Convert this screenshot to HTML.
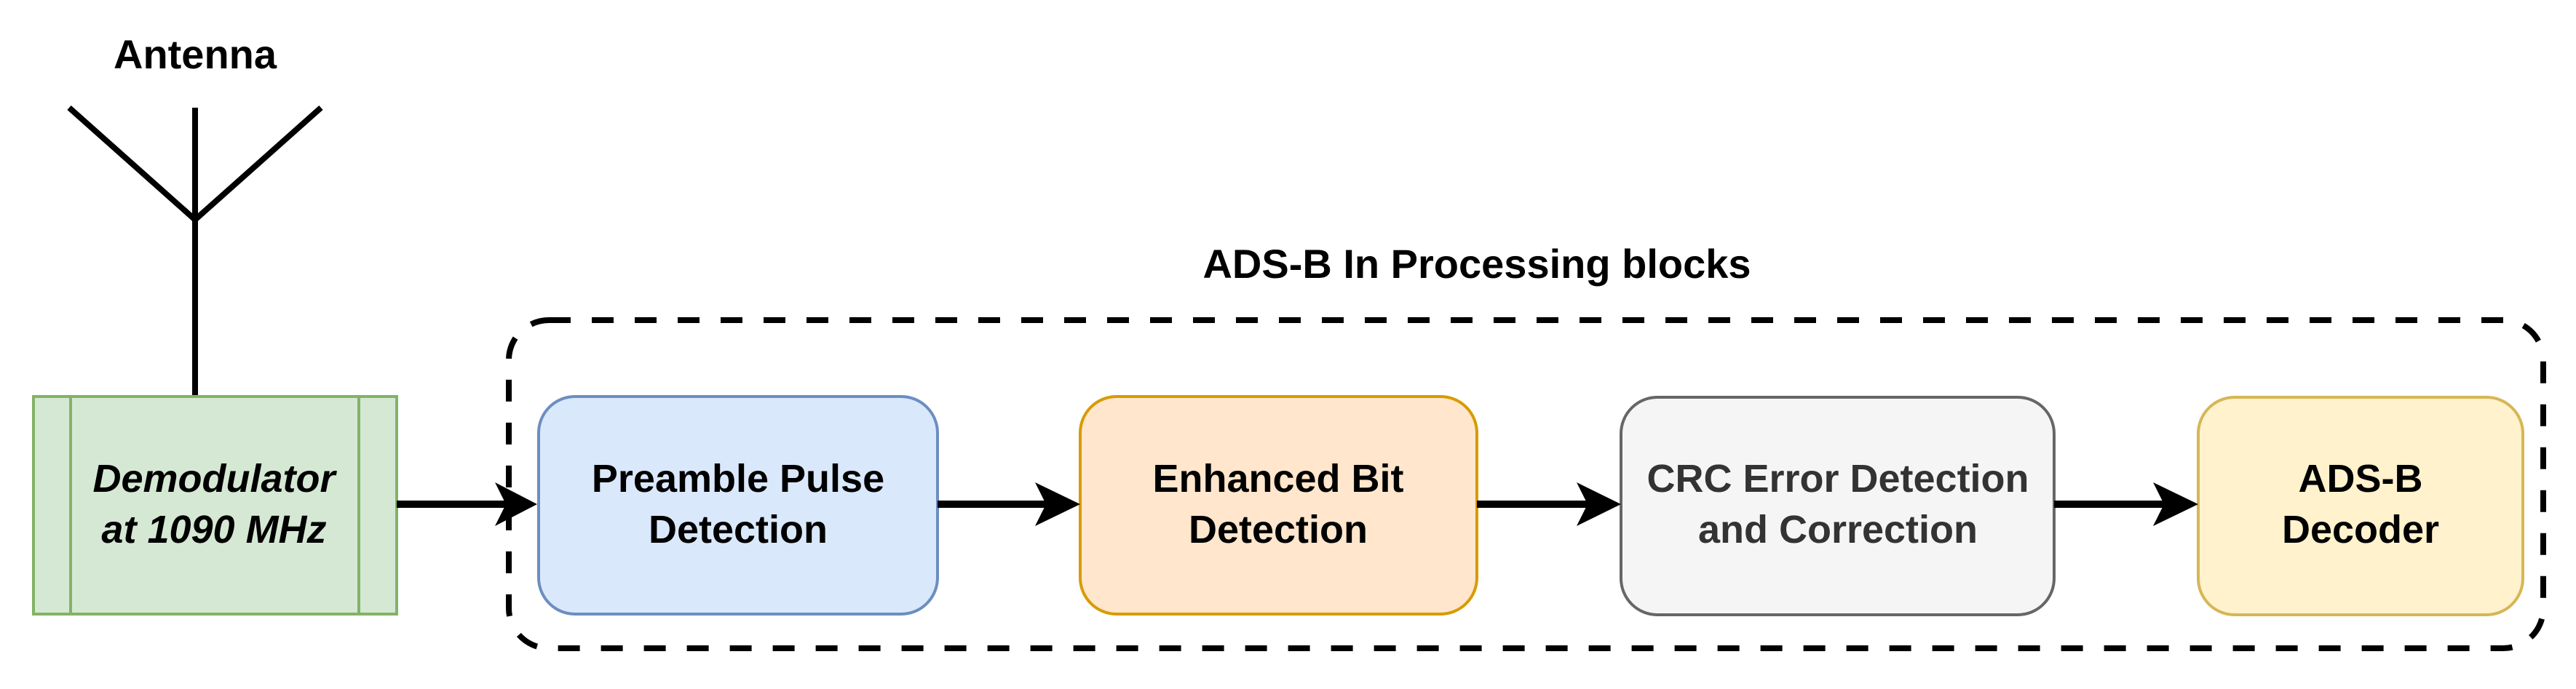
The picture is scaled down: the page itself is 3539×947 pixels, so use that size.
<!DOCTYPE html>
<html><head><meta charset="utf-8"><style>
html,body{margin:0;padding:0;background:#fff;}
svg{display:block;}
text{font-family:"Liberation Sans",Arial,sans-serif;font-weight:bold;}
</style></head><body>
<svg width="3539" height="947" viewBox="0 0 3539 947" xmlns="http://www.w3.org/2000/svg">
<text x="268" y="94" font-size="56" text-anchor="middle" fill="#000">Antenna</text>
<g stroke="#000" stroke-width="8" fill="none">
<line x1="95" y1="148" x2="268" y2="302"/>
<line x1="441" y1="148" x2="268" y2="302"/>
<line x1="268" y1="148" x2="268" y2="545"/>
</g>
<rect x="46" y="545" width="499" height="299" fill="#d5e8d4" stroke="#82b366" stroke-width="4"/>
<line x1="97" y1="545" x2="97" y2="844" stroke="#82b366" stroke-width="4"/>
<line x1="493" y1="545" x2="493" y2="844" stroke="#82b366" stroke-width="4"/>
<text x="294" y="676" font-size="54" font-style="italic" text-anchor="middle">Demodulator</text>
<text x="294" y="746" font-size="54" font-style="italic" text-anchor="middle">at 1090 MHz</text>

<text x="2029" y="382" font-size="56" text-anchor="middle">ADS-B In Processing blocks</text>
<rect x="699" y="440" width="2795" height="451" rx="55" fill="none" stroke="#000" stroke-width="8" stroke-dasharray="30 29"/>

<rect x="740" y="545" width="548" height="299" rx="50" fill="#dae8fc" stroke="#6c8ebf" stroke-width="4"/>
<text x="1014" y="676" font-size="54" text-anchor="middle">Preamble Pulse</text>
<text x="1014" y="746" font-size="54" text-anchor="middle">Detection</text>

<rect x="1484" y="545" width="545" height="299" rx="50" fill="#ffe6cc" stroke="#d79b00" stroke-width="4"/>
<text x="1756" y="676" font-size="54" text-anchor="middle">Enhanced Bit</text>
<text x="1756" y="746" font-size="54" text-anchor="middle">Detection</text>

<rect x="2227" y="546" width="595" height="299" rx="50" fill="#f5f5f5" stroke="#666" stroke-width="4"/>
<text x="2525" y="676" font-size="54" text-anchor="middle" fill="#333">CRC Error Detection</text>
<text x="2525" y="746" font-size="54" text-anchor="middle" fill="#333">and Correction</text>

<rect x="3020" y="546" width="446" height="299" rx="50" fill="#fff2cc" stroke="#d6b656" stroke-width="4"/>
<text x="3243" y="676" font-size="54" text-anchor="middle">ADS-B</text>
<text x="3243" y="746" font-size="54" text-anchor="middle">Decoder</text>

<g stroke="#000" stroke-width="10">
<line x1="545" y1="693" x2="700" y2="693"/>
<line x1="1288" y1="693" x2="1445" y2="693"/>
<line x1="2029" y1="693" x2="2190" y2="693"/>
<line x1="2822" y1="693" x2="2982" y2="693"/>
</g>
<g fill="#000">
<path d="M738 693 L680 663 L695 693 L680 723 Z"/>
<path d="M1484 693 L1422 663 L1437 693 L1422 723 Z"/>
<path d="M2227 693 L2166 663 L2181 693 L2166 723 Z"/>
<path d="M3020 693 L2958 663 L2973 693 L2958 723 Z"/>
</g>
</svg>
</body></html>
